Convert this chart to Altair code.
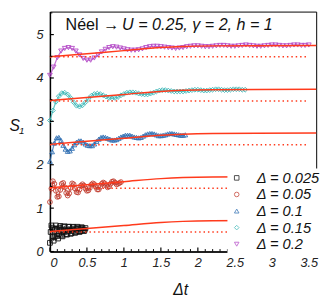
import altair as alt
import pandas as pd

# ---------------- data ----------------
labels = ["Δ = 0.025", "Δ = 0.05", "Δ = 0.1", "Δ = 0.15", "Δ = 0.2"]
colors = ["#111111", "#c0392b", "#2c6db2", "#36b5b5", "#b347c6"]
shapes = ["square", "circle", "triangle-up", "diamond", "triangle-down"]

# sampling of each series: (first t, step)
t_start = [0.0, 0.0, 0.0, 0.0, 0.0]
t_step = [0.01, 0.02, 0.03, 0.04, 0.05]

s_0025 = [0.20, 0.45, 0.60, 0.55, 0.35, 0.25, 0.33, 0.52, 0.60, 0.52,
          0.36, 0.30, 0.40, 0.55, 0.59, 0.50, 0.37, 0.35, 0.45, 0.57,
          0.58, 0.49, 0.40, 0.39, 0.48, 0.57, 0.57, 0.48, 0.41, 0.42,
          0.51, 0.57, 0.56, 0.48, 0.43, 0.45, 0.52, 0.57, 0.55, 0.48,
          0.45, 0.47, 0.53, 0.56, 0.54, 0.49, 0.47, 0.50, 0.54]
s_005 = [1.14, 1.45, 1.62, 1.56, 1.40, 1.26, 1.27, 1.42, 1.56, 1.58,
         1.48, 1.35, 1.29, 1.34, 1.47, 1.57, 1.55, 1.45, 1.37, 1.36,
         1.43, 1.52, 1.55, 1.52, 1.45, 1.40, 1.41, 1.47, 1.54, 1.57,
         1.55, 1.49, 1.43, 1.43, 1.49, 1.56, 1.59, 1.57, 1.52, 1.48,
         1.50, 1.56, 1.61, 1.62, 1.59, 1.55, 1.56, 1.58, 1.60]
s_01 = [2.08, 2.30, 2.50, 2.62, 2.63, 2.56, 2.45, 2.36, 2.31, 2.32,
        2.38, 2.46, 2.52, 2.55, 2.55, 2.52, 2.48, 2.45, 2.44, 2.44,
        2.48, 2.54, 2.59, 2.63, 2.64, 2.63, 2.61, 2.59, 2.57, 2.57,
        2.58, 2.61, 2.64, 2.66, 2.68, 2.68, 2.68, 2.66, 2.64, 2.63,
        2.62, 2.63, 2.66, 2.69, 2.71, 2.72, 2.72, 2.71, 2.69, 2.67,
        2.67, 2.68, 2.69, 2.71, 2.72, 2.72, 2.71, 2.70, 2.69, 2.68,
        2.68, 2.69]
s_015 = [3.02, 3.25, 3.45, 3.58, 3.65, 3.66, 3.62, 3.54, 3.44, 3.36,
         3.34, 3.37, 3.44, 3.52, 3.59, 3.63, 3.64, 3.63, 3.60, 3.57,
         3.54, 3.53, 3.54, 3.56, 3.60, 3.63, 3.66, 3.67, 3.67, 3.66,
         3.64, 3.63, 3.62, 3.62, 3.64, 3.66, 3.69, 3.71, 3.72, 3.72,
         3.71, 3.70, 3.69, 3.69, 3.69, 3.69, 3.70, 3.71, 3.72, 3.73,
         3.73, 3.72, 3.71, 3.71, 3.72, 3.73, 3.74, 3.74, 3.73, 3.72,
         3.72, 3.73, 3.74, 3.74, 3.74, 3.73, 3.73]
s_02 = [4.06, 4.25, 4.47, 4.62, 4.68, 4.70, 4.68, 4.62, 4.53, 4.45,
        4.41, 4.41, 4.46, 4.53, 4.60, 4.66, 4.70, 4.72, 4.71, 4.69,
        4.67, 4.65, 4.64, 4.64, 4.65, 4.67, 4.70, 4.72, 4.73, 4.73,
        4.72, 4.71, 4.70, 4.69, 4.68, 4.69, 4.70, 4.72, 4.73, 4.74,
        4.74, 4.73, 4.72, 4.72, 4.73, 4.74, 4.75, 4.75, 4.74, 4.73,
        4.73, 4.74, 4.75, 4.76, 4.75, 4.74, 4.73, 4.73, 4.74, 4.75,
        4.76, 4.76, 4.75, 4.74, 4.74, 4.75, 4.76, 4.76, 4.75, 4.75,
        4.76]
series_values = [s_0025, s_005, s_01, s_015, s_02]

# fitted curves (solid) and initial level (dotted), one per series
fit_t = [0.0, 0.5, 1.0, 1.5, 1.8, 2.2, 2.8, 3.6]
fit_0025 = [0.46, 0.53, 0.60, 0.67, 0.695, 0.71, 0.715, 0.72]
fit_005 = [1.47, 1.54, 1.61, 1.68, 1.705, 1.72, 1.725, 1.73]
fit_01 = [2.47, 2.54, 2.61, 2.68, 2.705, 2.72, 2.725, 2.73]
fit_015 = [3.48, 3.55, 3.62, 3.69, 3.715, 3.73, 3.735, 3.74]
fit_02 = [4.49, 4.56, 4.63, 4.70, 4.725, 4.74, 4.745, 4.75]
fits = [fit_0025, fit_005, fit_01, fit_015, fit_02]
level_t = [0.0, 3.48]
levels = [0.45, 1.46, 2.46, 3.47, 4.49]

x_major = [0, 0.5, 1, 1.5, 2, 2.5, 3, 3.5]
x_minor = [0.1, 0.2, 0.3, 0.4, 0.6, 0.7, 0.8, 0.9, 1.1, 1.2, 1.3, 1.4,
           1.6, 1.7, 1.8, 1.9, 2.1, 2.2, 2.3, 2.4, 2.6, 2.7, 2.8, 2.9,
           3.1, 3.2, 3.3, 3.4]
y_major = [0, 1, 2, 3, 4, 5]
y_minor = [0.5, 1.5, 2.5, 3.5, 4.5, 5.5]

# ---------------- tables ----------------
pts = []
for lab, t0, dt, vals in zip(labels, t_start, t_step, series_values):
    for i, v in enumerate(vals):
        pts.append({"series": lab, "t": round(t0 + i * dt, 4), "S": v})
pts = pd.DataFrame(pts)

fit_rows = []
for lab, vals in zip(labels, fits):
    for t, v in zip(fit_t, vals):
        fit_rows.append({"series": lab, "t": t, "S": v})
fit_df = pd.DataFrame(fit_rows)

lvl_rows = []
for lab, v in zip(labels, levels):
    for t in level_t:
        lvl_rows.append({"series": lab, "t": t, "S": v})
lvl_df = pd.DataFrame(lvl_rows)

W, H = 273, 246
FONT = "Liberation Sans"
RED = "#ff3a1c"

xs = alt.Scale(domain=[0, 3.6], nice=False, zero=False)
ys = alt.Scale(domain=[0, 5.53], nice=False, zero=False)

xax = alt.Axis(values=x_major, format="~g", ticks=False, grid=False,
               title=None, labelFont=FONT, labelFontStyle="italic",
               labelFontSize=13, labelColor="#222", labelPadding=5,
               domainColor="black", domainWidth=1.5)
yax = alt.Axis(values=y_major, format="~g", ticks=False, grid=False,
               title=None, labelFont=FONT, labelFontStyle="italic",
               labelFontSize=13, labelColor="#222", labelPadding=7,
               domainColor="black", domainWidth=1.5)

X = alt.X("t:Q", scale=xs, axis=xax)
Y = alt.Y("S:Q", scale=ys, axis=yax)
cscale = alt.Scale(domain=labels, range=colors)
sscale = alt.Scale(domain=labels, range=shapes)
leg = alt.Legend(title=None, orient="none", legendX=182, legendY=161,
                 fillColor="white", padding=2,
                 labelFont=FONT, labelFontStyle="italic",
                 labelFontSize=15, labelColor="#111",
                 symbolSize=22, symbolStrokeWidth=1,
                 symbolFillColor="transparent",
                 rowPadding=1, labelOffset=13)

trace = alt.Chart(pts).mark_line(strokeWidth=1.3, opacity=0.75).encode(
    x=X, y=Y, color=alt.Color("series:N", scale=cscale, legend=leg), detail="series:N")

points = alt.Chart(pts).mark_point(filled=False, size=24, strokeWidth=1, opacity=0.9).encode(
    x=X, y=Y,
    color=alt.Color("series:N", scale=cscale, legend=leg),
    shape=alt.Shape("series:N", scale=sscale, legend=leg),
    detail="series:N",
)

fit_lines = alt.Chart(fit_df).mark_line(color=RED, strokeWidth=1.5, interpolate="monotone").encode(
    x=X, y=Y, detail="series:N")

lvl_lines = alt.Chart(lvl_df).mark_line(color=RED, strokeWidth=1.5, strokeDash=[1.5, 3]).encode(
    x=X, y=Y, detail="series:N")

XV = alt.X("v:Q", scale=xs, axis=xax)
YV = alt.Y("v:Q", scale=ys, axis=yax)
xmaj = alt.Chart(pd.DataFrame({"v": x_major})).mark_rule(color="black", strokeWidth=1.2).encode(
    x=XV, y=alt.value(H), y2=alt.value(H - 4))
xmin = alt.Chart(pd.DataFrame({"v": x_minor})).mark_rule(color="black", strokeWidth=1).encode(
    x=XV, y=alt.value(H), y2=alt.value(H - 2.5))
ymaj = alt.Chart(pd.DataFrame({"v": y_major})).mark_rule(color="black", strokeWidth=1.2).encode(
    y=YV, x=alt.value(0), x2=alt.value(4))
ymin = alt.Chart(pd.DataFrame({"v": y_minor})).mark_rule(color="black", strokeWidth=1).encode(
    y=YV, x=alt.value(0), x2=alt.value(2.5))

def txt(s, x, y, size, style="normal", align="left"):
    return alt.Chart(pd.DataFrame({"s": [s]})).mark_text(
        font=FONT, fontSize=size, fontStyle=style, align=align, baseline="middle",
        color="#111").encode(text="s:N", x=alt.value(x), y=alt.value(y))

annot1 = txt("Néel →", 16, 14, 16.5)
annot2 = txt("U = 0.25, γ = 2, h = 1", 74, 14, 16.5, "italic")
ylab = txt("S", -36, 117, 16, "italic", "center")
ysub = txt("1", -29, 122, 10, "italic", "center")
xlab = txt("Δt", 134, 286, 16, "italic", "center")

chart = alt.layer(trace, points, fit_lines, lvl_lines, xmaj, xmin, ymaj, ymin,
                  annot1, annot2, ylab, ysub, xlab).properties(
    width=W, height=H, autosize=alt.AutoSizeParams(type="none"),
    padding={"left": 43, "top": 0, "right": 8, "bottom": 45},
).configure_view(stroke="black", strokeWidth=1)

chart.save("out.html", embed_options={"renderer": "svg", "actions": False})
